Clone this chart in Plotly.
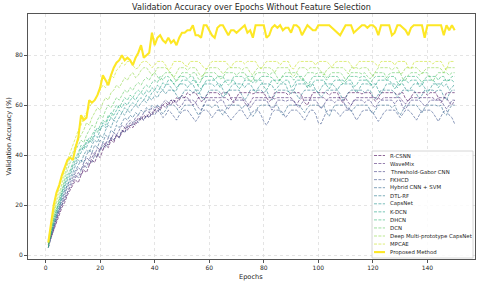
import plotly.graph_objects as go

epochs = list(range(1, 151))

names = ["R-CSNN", "WaveMix", "Threshold-Gabor CNN", "FKHCD", "Hybrid CNN + SVM", "DTL-RF",
         "CapsNet", "K-DCN", "DHCN", "DCN", "Deep Multi-prototype CapsNet", "MPCAE"]

r_csnn = [4, 7, 10, 13, 16, 19, 21, 24, 26, 28, 30, 29, 32, 34, 33,
          36, 38, 37, 40, 39, 42, 44, 43, 46, 45, 48, 47, 49, 51, 50,
          52, 51, 53, 55, 54, 56, 55, 57, 56, 58, 59, 58, 60, 61, 60,
          62, 61, 63, 62, 64, 63, 65, 64, 65, 65, 63, 61.5, 62, 64, 65,
          65, 65, 65, 64, 65, 65, 65, 62.5, 61, 63, 65, 65, 65, 65, 65,
          64.5, 65, 65, 65, 65, 63, 61.5, 62.5, 65, 65, 65, 65, 65, 64, 65,
          65, 65, 65, 63.5, 61, 60, 62.5, 65, 65, 65, 65, 65, 65, 64, 65,
          65, 65, 62.5, 61, 63, 65, 65, 65, 65, 65, 64.5, 65, 65, 65, 63,
          61.5, 63, 65, 65, 65, 65, 65, 65, 64, 65, 65, 62.5, 61.5, 63.5, 65,
          65, 65, 65, 65, 64, 65, 65, 65, 63, 61, 62.5, 65, 65, 65, 65]

wavemix = [3, 7, 11, 14, 17, 20, 22, 25, 27, 29, 31, 33, 32, 35, 37,
           36, 39, 41, 40, 43, 42, 45, 44, 47, 46, 48, 47, 50, 49, 52,
           51, 53, 52, 54, 55, 54, 56, 55, 57, 58, 57, 59, 60, 59, 61,
           60, 62, 61, 63, 63, 63, 63, 61.5, 60, 61, 63, 63, 63, 63, 63,
           63, 63, 63, 63, 63, 63, 62, 63, 63, 63, 63, 63, 61, 59.5, 61,
           63, 63, 63, 63, 63, 63, 63, 63, 62.5, 63, 63, 63, 63, 63, 63,
           61.5, 60, 62, 63, 63, 63, 63, 63, 63, 63, 63, 63, 62, 63, 63,
           63, 63, 63, 63, 63, 61, 60, 61.5, 63, 63, 63, 63, 63, 63, 63,
           63, 63, 62, 63, 63, 63, 63, 63, 63, 63, 61.5, 60.5, 62, 63, 63,
           63, 63, 63, 63, 63, 63, 63, 62, 63, 63, 63, 63, 61, 60, 62]

gabor = [4, 8, 12, 15, 18, 21, 24, 27, 29, 31, 33, 35, 34, 37, 39,
         38, 41, 40, 43, 42, 45, 44, 47, 46, 49, 48, 50, 52, 51, 53,
         54, 53, 55, 56, 55, 57, 58, 57, 59, 58, 60, 59, 61, 62, 61,
         62, 62, 60.5, 59, 60, 62, 62, 62, 62, 61, 59, 58, 60, 62, 62,
         62, 62, 61, 62, 62, 59.5, 58.5, 60, 62, 62, 62, 62, 62, 61, 59,
         60.5, 62, 62, 62, 62, 62, 60, 58, 59.5, 62, 62, 62, 61.5, 62, 62,
         62, 60, 59, 61, 62, 62, 62, 62, 62, 60.5, 58.5, 60, 62, 62, 62,
         61, 62, 62, 62, 59.5, 58, 60, 62, 62, 62, 62, 61, 62, 62, 60,
         59, 61, 62, 62, 62, 62, 62, 60.5, 62, 62, 59, 58.5, 60.5, 62, 62,
         62, 62, 61, 59.5, 60.5, 62, 62, 62, 62, 62, 60, 58.5, 60, 62, 62]

fkhcd = [3, 8, 11, 15, 18, 20, 23, 25, 28, 30, 32, 31, 34, 36, 35,
         38, 37, 40, 39, 42, 44, 43, 45, 47, 46, 48, 47, 50, 49, 51,
         53, 52, 54, 53, 55, 54, 56, 55, 57, 56, 58, 57, 55, 56, 58,
         57, 55.5, 54, 56, 57.5, 58, 58, 56.5, 55, 53.5, 55, 57, 58, 58, 57,
         55, 56.5, 58, 58, 58, 57, 55.5, 54, 55.5, 57, 58, 58, 56, 54.5, 56,
         57.5, 58, 58, 56, 53.5, 52, 54, 57, 58, 58, 58, 57, 55, 56.5, 58,
         58, 58, 57, 55.5, 54, 56, 58, 58, 56.5, 53, 52.5, 55, 57.5, 58, 58,
         58, 57, 55.5, 57, 58, 58, 58, 56, 54, 55.5, 57.5, 58, 58, 58, 57,
         55, 53.5, 55, 57, 58, 58, 58, 58, 56.5, 55, 56.5, 58, 58, 57, 55.5,
         54, 56, 58, 58, 58, 58, 57, 55, 53.5, 55.5, 57.5, 58, 56, 55, 52.5]

hybrid = [5, 9, 13, 16, 19, 22, 25, 28, 30, 32, 34, 36, 38, 37, 40,
          42, 41, 44, 43, 46, 45, 48, 47, 50, 49, 52, 51, 53, 55, 54,
          56, 55, 57, 56, 58, 57, 59, 58, 60, 59, 60, 58, 56.5, 58, 60,
          60, 60, 59, 57, 58.5, 60, 60, 60, 60, 58, 56, 57.5, 60, 60, 60,
          59, 60, 60, 57.5, 56, 58, 60, 60, 60, 60, 60, 58.5, 60, 60, 57,
          55.5, 57, 59.5, 60, 60, 60, 60, 59, 60, 60, 57.5, 56, 58, 60, 60,
          60, 60, 60, 58.5, 57, 59, 60, 60, 60, 60, 59, 60, 57, 55.5, 58,
          60, 60, 60, 60, 60, 59, 57.5, 58.5, 60, 60, 60, 60, 60, 58, 56.5,
          58, 60, 60, 60, 60, 60, 59, 60, 57.5, 56, 58, 60, 60, 60, 60,
          60, 58.5, 57, 59, 60, 60, 60, 60, 59.5, 60, 57, 56, 58.5, 60, 60]

dtl_rf = [3, 8, 12, 16, 19, 23, 26, 28, 31, 33, 36, 38, 37, 40, 42,
          41, 44, 46, 45, 48, 47, 50, 52, 51, 54, 53, 55, 57, 56, 58,
          57, 59, 60, 59, 61, 62, 61, 63, 62, 64, 63, 65, 66, 64.5, 66,
          66, 66, 64, 62.5, 64, 66, 66, 66, 65, 66, 66, 63.5, 62, 64, 66,
          66, 66, 66, 65, 63, 64.5, 66, 66, 66, 66, 66, 64, 62, 63.5, 66,
          66, 66, 66, 66, 65, 66, 63.5, 62, 64, 66, 66, 66, 66, 65.5, 66,
          66, 64, 62.5, 64.5, 66, 66, 66, 66, 66, 65, 63, 64.5, 66, 66, 66,
          66, 66, 64.5, 62, 63, 65, 66, 66, 66, 66, 66, 65, 66, 66, 63.5,
          62.5, 64, 66, 66, 66, 66, 66, 65, 63, 64.5, 66, 66, 66, 66, 66,
          64.5, 62.5, 64, 66, 66, 66, 66, 65.5, 66, 66, 63.5, 62, 64.5, 66, 66]

capsnet = [4, 9, 13, 17, 20, 24, 27, 30, 32, 35, 37, 39, 41, 44, 43,
           46, 45, 48, 47, 50, 52, 51, 53, 55, 54, 56, 58, 57, 59, 58,
           60, 61, 60, 62, 63, 62, 64, 63, 65, 66, 65, 67, 66, 68, 68.5,
           67, 65.5, 66, 68.5, 68.5, 68.5, 67, 68.5, 68.5, 66, 64.5, 66, 68.5, 68.5, 68.5,
           68.5, 67.5, 68.5, 68.5, 66, 64, 65.5, 67.5, 68.5, 68.5, 68.5, 68.5, 67, 68.5, 68.5,
           66.5, 65, 67, 68.5, 68.5, 68.5, 68.5, 68, 66, 67, 68.5, 68.5, 68.5, 65.5, 64.5,
           66, 68.5, 68.5, 68.5, 68.5, 67, 68.5, 68.5, 66, 65, 67, 68.5, 68.5, 68.5, 68.5,
           67.5, 66, 68, 68.5, 68.5, 68.5, 68.5, 66.5, 65, 66.5, 68.5, 68.5, 68.5, 68, 68.5,
           68.5, 66, 64.5, 66.5, 68.5, 68.5, 68.5, 68.5, 67, 68.5, 68.5, 66.5, 65.5, 67, 68.5,
           68.5, 68.5, 68.5, 67, 65, 66.5, 68.5, 68.5, 68.5, 68.5, 67.5, 68.5, 66, 67, 68.5]

k_dcn = [5, 10, 14, 18, 21, 25, 28, 31, 33, 36, 38, 40, 43, 42, 45,
         47, 46, 49, 51, 50, 53, 52, 55, 57, 56, 58, 60, 59, 61, 60,
         62, 63, 62, 64, 65, 64, 66, 65, 67, 66, 68, 67, 69, 68, 70,
         70, 68.5, 67, 68, 70, 70, 70, 69, 70, 70, 67.5, 66.5, 68, 70, 70,
         70, 70, 69, 67, 68.5, 70, 70, 70, 70, 68, 66.5, 68, 70, 70, 70,
         69, 70, 70, 70, 67.5, 66, 68, 70, 70, 70, 70, 69, 70, 70, 67,
         68, 70, 70, 70, 70, 68.5, 67, 69, 70, 70, 70, 70, 68, 66.5, 68.5,
         70, 70, 70, 70, 69, 70, 70, 67.5, 68, 70, 70, 70, 70, 69, 67,
         68, 70, 70, 70, 70, 70, 68.5, 66.5, 68, 70, 70, 70, 69, 70, 70,
         70, 67.5, 68, 70, 70, 70, 70, 69, 67, 68.5, 70, 70, 70, 70, 69]

dhcn = [3, 9, 14, 18, 22, 25, 29, 32, 34, 37, 39, 41, 44, 43, 46,
        45, 48, 50, 49, 52, 54, 53, 56, 55, 58, 60, 59, 61, 63, 62,
        64, 63, 65, 66, 65, 67, 68, 67, 69, 70, 69, 71.5, 70, 71.5, 71.5,
        70, 68.5, 70, 71.5, 71.5, 71.5, 70.5, 71.5, 71.5, 69, 68, 70, 71.5, 71.5, 71.5,
        71.5, 70, 71.5, 71.5, 71.5, 69.5, 68, 69, 71.5, 71.5, 71.5, 71.5, 70.5, 71.5, 71.5,
        71.5, 69, 70, 71.5, 71.5, 71.5, 71.5, 71, 69.5, 68.5, 70.5, 71.5, 71.5, 71.5, 71.5,
        70, 71.5, 71.5, 71.5, 69, 67.5, 69.5, 71.5, 71.5, 71.5, 71.5, 71.5, 70, 71.5, 71.5,
        71.5, 71.5, 70, 68.5, 70, 71.5, 71.5, 71.5, 71.5, 71, 71.5, 71.5, 69.5, 68.5, 70.5,
        71.5, 71.5, 71.5, 71.5, 70, 71.5, 71.5, 71.5, 69, 68, 70, 71.5, 71.5, 71.5, 71.5,
        71.5, 70.5, 69, 70.5, 71.5, 71.5, 71.5, 71.5, 70, 71.5, 71.5, 69.5, 70, 71.5, 71.5]

dcn = [4, 10, 15, 19, 23, 27, 30, 34, 37, 39, 42, 44, 46, 45, 48,
       50, 52, 51, 54, 56, 55, 58, 60, 59, 61, 63, 62, 64, 66, 65,
       67, 66, 68, 69, 68, 70, 71, 70, 72, 73, 71.5, 70, 72, 73, 73,
       73, 71, 69.5, 71, 73, 73, 73, 72, 73, 73, 70.5, 70, 72.5, 73, 73,
       73, 73, 72, 70.5, 71, 73, 73, 73, 73, 72, 73, 73, 73, 71, 69.5,
       70, 72.5, 73, 73, 73, 73, 72, 73, 73, 71, 70, 72, 73, 73, 73,
       73, 73, 71.5, 70, 71.5, 73, 73, 73, 72.5, 73, 73, 73, 71, 72, 73,
       73, 73, 73, 72, 70, 71, 73, 73, 73, 73, 72.5, 73, 71.5, 70.5, 72,
       73, 73, 73, 73, 71, 72.5, 73, 73, 73, 73, 70.5, 70, 72, 73, 73,
       73, 72, 73, 73, 73, 71, 69.5, 71.5, 73, 73, 73, 73, 72, 73, 73]

dmp_capsnet = [5, 11, 16, 21, 25, 29, 33, 36, 39, 41, 44, 46, 48, 50, 53,
               52, 55, 57, 59, 58, 61, 63, 62, 65, 66, 68, 67, 69, 71, 70,
               72, 73, 71, 72, 74, 75, 75, 73.5, 72, 73, 75, 75, 75, 75, 74,
               72.5, 71, 73, 75, 75, 75, 74, 75, 75, 75, 73, 71.5, 72, 74.5, 75,
               75, 75, 75, 74, 72.5, 73.5, 75, 75, 75, 75, 75, 74, 75, 75, 73,
               72, 74, 75, 75, 75, 75, 75, 74.5, 73, 75, 75, 75, 75, 75, 72.5,
               71.5, 73, 75, 75, 75, 74, 75, 75, 75, 75, 73.5, 72, 74, 75, 75,
               75, 75, 75, 75, 74, 72.5, 75, 75, 75, 74.5, 75, 75, 75, 73, 71.5,
               73.5, 75, 75, 75, 75, 75, 74, 75, 75, 72.5, 73, 75, 75, 75, 75,
               75, 74, 72.5, 74, 75, 75, 75, 75, 75, 74.5, 73, 75, 75, 75, 75]

mpcae = [6, 12, 18, 23, 27, 31, 35, 38, 41, 44, 47, 50, 52, 55, 57,
         59, 61, 62, 64, 66, 68, 67, 70, 72, 71, 74, 75, 77, 76, 77.5,
         77.5, 76, 74.5, 75, 77, 77.5, 77.5, 76.5, 75, 76, 77.5, 77.5, 77.5, 76, 74,
         75, 77.5, 77.5, 77.5, 77.5, 76, 75.5, 77.5, 77.5, 77.5, 77.5, 76.5, 75, 74.5, 76,
         77.5, 77.5, 77.5, 77.5, 77.5, 77.5, 76, 75, 77, 77.5, 77.5, 77.5, 76.5, 77.5, 77.5,
         77.5, 77.5, 75.5, 74.5, 76, 77.5, 77.5, 77.5, 77.5, 77.5, 76, 77.5, 77.5, 77.5, 75,
         74.5, 76.5, 77.5, 77.5, 77.5, 77.5, 77.5, 77.5, 76, 77.5, 77.5, 77.5, 77.5, 76.5, 75,
         77, 77.5, 77.5, 77.5, 77.5, 77.5, 76, 74.5, 76, 77.5, 77.5, 77.5, 77.5, 77.5, 77.5,
         76.5, 75.5, 77.5, 77.5, 77.5, 77.5, 77.5, 76, 77.5, 77.5, 77.5, 77.5, 75, 74.5, 77,
         77.5, 77.5, 77.5, 77.5, 77.5, 77.5, 76.5, 77.5, 77.5, 77.5, 75.5, 74, 77.5, 77.5, 77.5]

proposed = [5, 13, 20, 25, 28, 32, 35, 38, 39, 38,
            43, 47, 56, 54, 55, 62, 61, 62, 64, 67,
            72, 70, 68, 72, 75, 77, 78, 80, 78, 79,
            78, 76, 79, 81, 84, 79, 80, 81, 89, 84,
            87, 88, 86, 85, 87, 85, 86, 84, 87, 89,
            89, 90, 90, 92, 88, 88, 87, 92, 92, 90,
            88, 87, 91, 92, 92, 90, 88, 90, 90, 89,
            90, 91, 92, 89, 90, 87, 92, 92, 92, 92,
            87, 88, 91, 92, 91, 92, 90, 91, 91, 89,
            92, 92, 91, 88, 90, 92, 91, 90, 90, 92,
            92, 92, 92, 92, 91, 90, 89, 88, 90, 92,
            92, 92, 89, 90, 91, 92, 92, 91, 92, 92,
            91, 88, 92, 92, 92, 92, 88, 89, 92, 92,
            91, 90, 88, 91, 92, 92, 92, 92, 87, 92,
            92, 92, 92, 92, 92, 88, 92, 90, 92, 90]

series = [r_csnn, wavemix, gabor, fkhcd, hybrid, dtl_rf, capsnet, k_dcn, dhcn, dcn, dmp_capsnet, mpcae]
colors = ["#440154", "#482173", "#433e85", "#3b528b", "#31688e", "#297a8e",
          "#21918c", "#1fa187", "#35b779", "#5ec962", "#8fd744", "#c8e020"]
proposed_color = "#fde725"
DASH = "3px,1.4px"
OPA = 0.7

# figure geometry (pixels)
W, H = 480, 286
L, R, T, B = 28, 5, 14, 27
PW, PH = W - L - R, H - T - B

fig = go.Figure()
for name, ys, c in zip(names, series, colors):
    fig.add_trace(go.Scatter(x=epochs, y=ys, mode="lines", name=name, showlegend=False,
                             opacity=OPA, line=dict(color=c, width=0.85, dash=DASH)))
fig.add_trace(go.Scatter(x=epochs, y=proposed, mode="lines", name="Proposed Method",
                         showlegend=False, line=dict(color=proposed_color, width=2.1)))

def px(xp):
    return (xp - L) / PW

def py(yp):
    return (H - B - yp) / PH

TXT = "#262626"
shapes = []
annotations = []
# compact legend (matplotlib-like)
lx0, lx1, ly0, ly1 = 372, 473, 151, 258
shapes.append(dict(type="rect", xref="paper", yref="paper", x0=px(lx0), x1=px(lx1),
                   y0=py(ly1), y1=py(ly0), line=dict(color="#cccccc", width=0.8),
                   fillcolor="rgba(255,255,255,0.85)", layer="above"))
labels = names + ["Proposed Method"]
lcolors = colors + [proposed_color]
for i, (lab, c) in enumerate(zip(labels, lcolors)):
    yy = 155.5 + i * 8.05
    is_prop = lab == "Proposed Method"
    shapes.append(dict(type="line", xref="paper", yref="paper", x0=px(374), x1=px(385),
                       y0=py(yy), y1=py(yy), layer="above", opacity=1 if is_prop else OPA,
                       line=dict(color=c, width=2.1 if is_prop else 0.85,
                                 dash="solid" if is_prop else DASH)))
    annotations.append(dict(xref="paper", yref="paper", x=px(388), y=py(yy), text=lab,
                            showarrow=False, xanchor="left", yanchor="middle",
                            font=dict(size=5.4, color=TXT, family="DejaVu Sans")))

# axis titles
annotations.append(dict(xref="paper", yref="paper", x=px(251), y=py(277), text="Epochs",
                        showarrow=False, xanchor="center", yanchor="middle",
                        font=dict(size=6.6, color=TXT)))
annotations.append(dict(xref="paper", yref="paper", x=px(8.5), y=py(137), text="Validation Accuracy (%)",
                        showarrow=False, xanchor="center", yanchor="middle", textangle=-90,
                        font=dict(size=6.6, color=TXT)))

fig.update_layout(
    width=W, height=H,
    margin=dict(l=L, r=R, t=T, b=B),
    paper_bgcolor="white", plot_bgcolor="white",
    font=dict(family="DejaVu Sans", size=6, color=TXT),
    title=dict(text="Validation Accuracy over Epochs Without Feature Selection",
               x=0.5, xref="paper", xanchor="center", y=1 - 7.5 / H, yanchor="middle",
               font=dict(size=8.1, color=TXT)),
    shapes=shapes, annotations=annotations,
    showlegend=False, hovermode=False,
)
axis_common = dict(tick0=0, dtick=20, showline=True, mirror=True, automargin=False,
                   linecolor="#555555", linewidth=1, ticks="outside", ticklen=3, tickcolor="#555555",
                   showgrid=True, gridcolor="#dddddd", griddash="dot", gridwidth=0.8, zeroline=False,
                   tickfont=dict(size=6, color=TXT))
fig.update_xaxes(range=[-6.45, 157.45], **axis_common)
fig.update_yaxes(range=[-1.6, 96.5], **axis_common)

fig.write_html("out.html",
               config={"displayModeBar": False, "staticPlot": True},
               post_script="document.body.style.margin='0';document.body.style.padding='0';")
